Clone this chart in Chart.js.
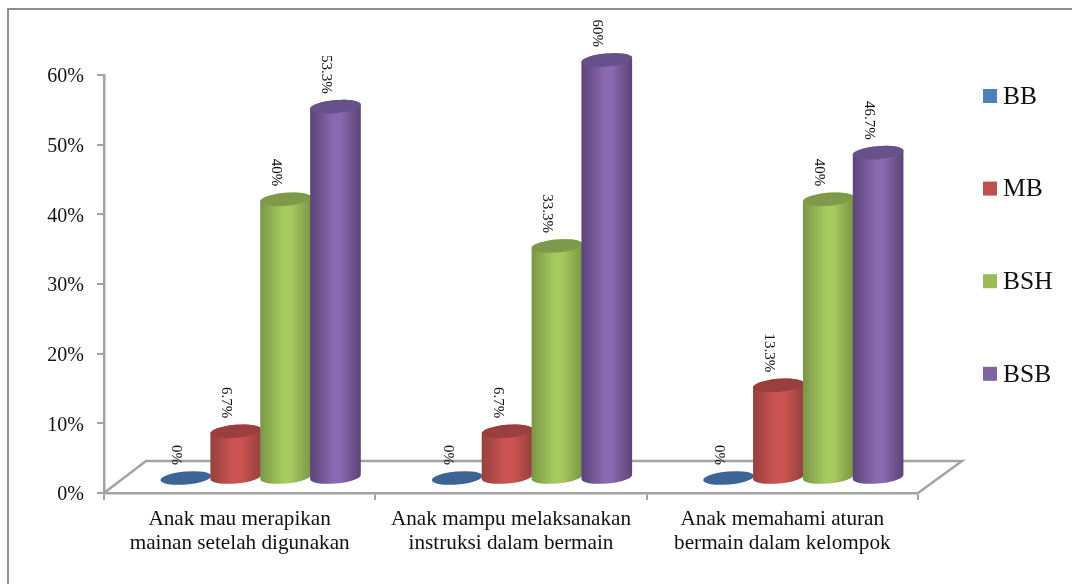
<!DOCTYPE html>
<html>
<head>
<meta charset="utf-8">
<title>Grafik</title>
<script src="https://cdn.jsdelivr.net/npm/chart.js@4/dist/chart.umd.min.js"></script>
<style>
  html, body { margin: 0; padding: 0; background: #fff; }
  #wrap { width: 1072px; height: 584px; position: relative; }
</style>
</head>
<body>
<div id="wrap"><canvas id="chart"></canvas></div>
<script>
const categories = [
  ["Anak mau merapikan", "mainan setelah digunakan"],
  ["Anak mampu melaksanakan", "instruksi dalam bermain"],
  ["Anak memahami aturan", "bermain dalam kelompok"]
];
const seriesNames = ["BB", "MB", "BSH", "BSB"];
const bbValues = [0, 0, 0];
const mbValues = [6.7, 6.7, 13.3];
const bshValues = [40, 33.3, 40];
const bsbValues = [53.3, 60, 46.7];
const yTicks = [0, 10, 20, 30, 40, 50, 60];

const legendColors = ["#4f81bd", "#c0504d", "#9bbb59", "#8064a2"];
const edgeColors = ["#345a86", "#96403d", "#7b9646", "#5a4478"];
const midColors = ["#4f81bd", "#cb5452", "#a6ca5e", "#8a69ae"];
const capColors = ["#3b6595", "#9a3f3d", "#7f994a", "#67518a"];

const FONT = "'Liberation Serif', 'Times New Roman', serif";
const GREY = "#a3a3a3";

// the cylinders stand in the middle of the floor, not on its front edge
const depthX = 21, depthY = 15;
const floorX = 42, floorY = 32;
const tilt = -5 * Math.PI / 180;

function drawCylinder(ctx, cx, top, base, rx, ry, i) {
  if (base - top > 0.5) {
    const grad = ctx.createLinearGradient(cx - rx, 0, cx + rx, 0);
    grad.addColorStop(0, edgeColors[i]);
    grad.addColorStop(0.45, midColors[i]);
    grad.addColorStop(0.6, midColors[i]);
    grad.addColorStop(1, edgeColors[i]);
    ctx.beginPath();
    ctx.ellipse(cx, base, rx, ry, tilt, 0, Math.PI);
    ctx.ellipse(cx, top, rx, ry, tilt, Math.PI, 2 * Math.PI);
    ctx.closePath();
    ctx.fillStyle = grad;
    ctx.fill();
  }
  ctx.beginPath();
  ctx.ellipse(cx, top, rx, ry, tilt, 0, 2 * Math.PI);
  ctx.fillStyle = capColors[i];
  ctx.fill();
}

const cylinders = {
  id: "cylinders",
  beforeDatasetsDraw(chart) {
    const ctx = chart.ctx;
    const { left, right, bottom } = chart.chartArea;

    // floor outline behind the bars
    ctx.save();
    ctx.strokeStyle = GREY;
    ctx.lineWidth = 2.5;
    ctx.beginPath();
    ctx.moveTo(left, bottom);
    ctx.lineTo(left + floorX, bottom - floorY);
    ctx.lineTo(right + floorX + 2, bottom - floorY);
    ctx.lineTo(right, bottom);
    ctx.stroke();

    chart.data.datasets.forEach((ds, i) => {
      chart.getDatasetMeta(i).data.forEach((bar) => {
        drawCylinder(ctx, bar.x + depthX, bar.y - depthY, bar.base - depthY, bar.width / 2 + 0.5, 6.5, i);
      });
    });

    // value labels run down the page above each cylinder
    ctx.fillStyle = "#111";
    ctx.font = "15px " + FONT;
    ctx.textAlign = "right";
    ctx.textBaseline = "middle";
    chart.data.datasets.forEach((ds, i) => {
      chart.getDatasetMeta(i).data.forEach((bar, j) => {
        ctx.save();
        ctx.translate(bar.x + depthX - 9.5, bar.y - depthY - 13);
        ctx.rotate(Math.PI / 2);
        ctx.fillText(ds.data[j] + "%", 0, 0);
        ctx.restore();
      });
    });
    ctx.restore();
    return false;
  }
};

const frameAndLegend = {
  id: "frameAndLegend",
  afterDraw(chart) {
    const ctx = chart.ctx;
    ctx.save();
    // frame only shows on the top and left
    ctx.strokeStyle = "#8f8f8f";
    ctx.lineWidth = 2;
    ctx.beginPath();
    ctx.moveTo(8, chart.height);
    ctx.lineTo(8, 9);
    ctx.lineTo(chart.width, 9);
    ctx.stroke();

    ctx.font = "25.5px " + FONT;
    ctx.textAlign = "left";
    ctx.textBaseline = "middle";
    seriesNames.forEach((name, i) => {
      const y = 96 + i * 92.6;
      ctx.fillStyle = legendColors[i];
      ctx.fillRect(983, y - 7, 14, 14);
      ctx.fillStyle = "#111";
      ctx.fillText(name, 1003, y + 1);
    });
    ctx.restore();
  }
};

new Chart(document.getElementById("chart"), {
  type: "bar",
  data: {
    labels: categories,
    datasets: [
      { label: seriesNames[0], data: bbValues, backgroundColor: legendColors[0] },
      { label: seriesNames[1], data: mbValues, backgroundColor: legendColors[1] },
      { label: seriesNames[2], data: bshValues, backgroundColor: legendColors[2] },
      { label: seriesNames[3], data: bsbValues, backgroundColor: legendColors[3] }
    ]
  },
  options: {
    responsive: true,
    maintainAspectRatio: false,
    animation: false,
    events: [],
    layout: { padding: { left: 0, right: 154, top: 75, bottom: 0 } },
    datasets: { bar: { categoryPercentage: 0.735, barPercentage: 1 } },
    plugins: { legend: { display: false }, tooltip: { enabled: false } },
    scales: {
      x: {
        afterFit(scale) { scale.height = 91; },
        grid: { drawOnChartArea: false, color: GREY, lineWidth: 2, tickLength: 7, drawTicks: true },
        border: { color: GREY, width: 2.5 },
        ticks: {
          color: "#111",
          maxRotation: 0,
          autoSkip: false,
          padding: 7,
          font: { family: FONT, size: 21.2, lineHeight: 1.14 }
        }
      },
      y: {
        min: 0,
        max: 60,
        afterFit(scale) { scale.width = 104; },
        afterBuildTicks(scale) { scale.ticks = yTicks.map((v) => ({ value: v })); },
        grid: { drawOnChartArea: false, color: GREY, lineWidth: 2, tickLength: 7 },
        border: { color: GREY, width: 2.5 },
        ticks: {
          color: "#111",
          padding: 13,
          labelOffset: 2,
          callback: (v) => v + "%",
          font: { family: FONT, size: 20 }
        }
      }
    }
  },
  plugins: [cylinders, frameAndLegend]
});
</script>
</body>
</html>
